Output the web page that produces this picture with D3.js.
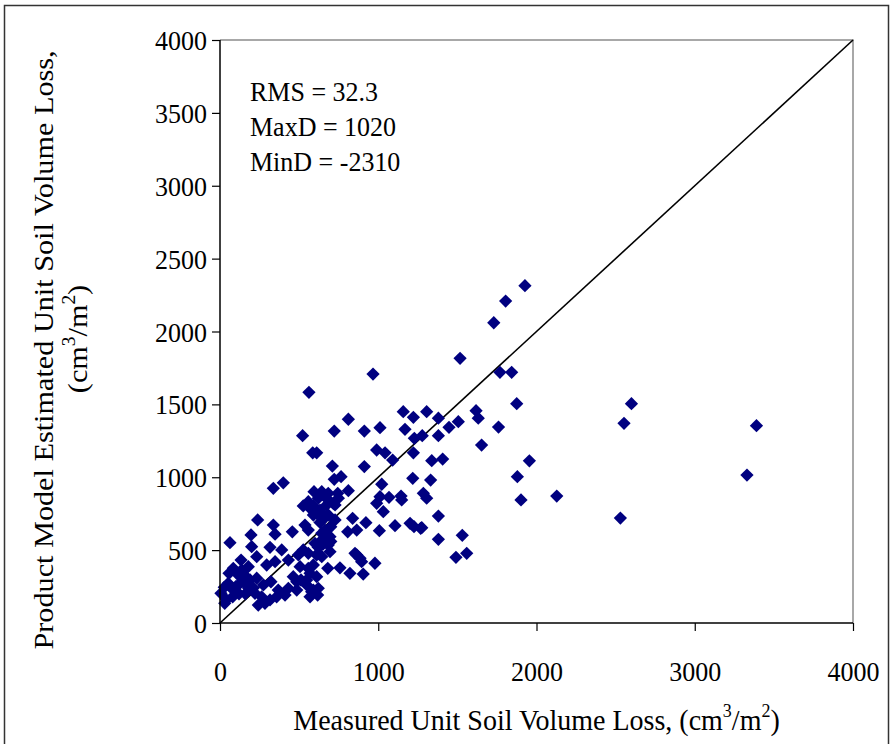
<!DOCTYPE html>
<html>
<head>
<meta charset="utf-8">
<script src="https://cdn.jsdelivr.net/npm/d3@7"></script>
<style>
  html, body { margin: 0; padding: 0; background: #fff; }
  svg { display: block; }
  text { font-family: "Liberation Serif", "Times New Roman", serif; fill: #000; }
</style>
</head>
<body>
<svg id="chart" width="893" height="744"></svg>
<script>
// Measured vs. model-estimated unit soil volume loss (cm^3/m^2)
const measured = [
  1927,1805,1730,1517,967,1769,1843,562,1875,2600,2553,3390,3330,2530,2128,1902,1955,1879,
  1618,1632,1306,1380,1447,1506,1760,1380,1653,1338,1407,1331,1285,1306,1380,1275,1380,1531,
  1491,1559,1158,1222,811,722,912,1011,1169,1228,1278,611,990,1043,1091,1222,710,912,722,765,
  1218,1022,643,684,744,811,1011,1068,1144,621,522,586,337,400,594,558,990,1032,1148,838,922,
  807,864,1007,1106,1201,1226,1268,684,727,643,684,695,864,895,979,681,758,821,905,611,621,
  617,643,663,695,621,643,600,632,674,727,853,885,238,63,337,457,196,348,537,526,590,590,558,
  200,316,390,133,232,179,295,348,432,495,526,57,116,154,52,27,6,30,84,126,190,232,274,322,
  263,242,316,368,411,463,512,548,569,590,432,485,506,590,600,558,611,558,137,84,221,284,100,
  150,120,180,80,40,210,160,653,684,716,748,569,611,653,358,548,579,569,485,632,660,700,650,
  700,620
];
const estimated = [
  2314,2209,2060,1816,1708,1720,1720,1583,1505,1505,1370,1354,1015,720,871,844,1113,1004,
  1457,1405,1450,1405,1343,1381,1344,1285,1221,1114,1125,981,890,856,734,654,574,602,
  451,478,1450,1411,1398,1317,1317,1340,1329,1267,1285,1168,1187,1168,1118,1168,1077,1073,986,1004,
  993,952,901,890,890,908,867,862,871,856,1285,1168,924,962,901,832,821,764,844,718,688,
  626,638,633,668,684,661,650,741,707,569,535,489,467,421,410,375,379,341,336,318,238,
  192,615,638,592,478,455,775,775,810,810,478,444,707,551,672,626,604,609,672,803,805,741,638,
  524,519,501,432,455,386,398,421,432,467,501,341,329,329,272,245,204,135,226,272,295,307,261,283,
  180,123,158,226,192,318,295,295,341,226,238,226,386,398,547,478,467,375,364,375,204,135,250,
  280,200,240,180,160,240,200,878,844,821,856,787,753,741,180,261,215,180,283,690,720,660,540,
  560,520
];
const xTicks = [0, 1000, 2000, 3000, 4000];
const yTicks = [0, 500, 1000, 1500, 2000, 2500, 3000, 3500, 4000];
const statLines = ["RMS = 32.3", "MaxD = 1020", "MinD = -2310"];

// glyphs in this chart are drawn slightly taller than the font's natural shape
const STRETCH = 1.08;
const FONT = '"Liberation Serif", "Times New Roman", serif';

const svg = d3.select("#chart");

// outer chart frame
svg.append("rect")
  .attr("x", 4.5).attr("y", 5.5).attr("width", 884).attr("height", 760)
  .attr("fill", "none").attr("stroke", "#333").attr("stroke-width", 1.5);

const x = d3.scaleLinear().domain([0, 4000]).range([220, 853]);
const y = d3.scaleLinear().domain([0, 4000]).range([623, 40]);

// plot area outline (grey top/right edges)
svg.append("path")
  .attr("d", `M${x(0)},${y(4000)}H${x(4000)}V${y(0)}`)
  .attr("fill", "none").attr("stroke", "#8c8c8c").attr("stroke-width", 1.5);

// 1:1 reference line
svg.append("line")
  .attr("x1", x(0)).attr("y1", y(0)).attr("x2", x(4000)).attr("y2", y(4000))
  .attr("stroke", "#000").attr("stroke-width", 1.6);

// data points (navy diamonds)
const diamond = d3.symbol(d3.symbolSquare, 88);
svg.append("g").selectAll("path")
  .data(measured.map((m, i) => [m, estimated[i]]))
  .join("path")
  .attr("d", diamond)
  .attr("transform", d => `translate(${x(d[0])},${y(d[1])}) rotate(45)`)
  .attr("fill", "#000080");

// axes
const xAxis = svg.append("g")
  .attr("transform", `translate(0,${y(0)})`)
  .call(d3.axisBottom(x).tickValues(xTicks).tickFormat(d3.format("d")).tickSize(8));
const yAxis = svg.append("g")
  .attr("transform", `translate(${x(0)},0)`)
  .call(d3.axisLeft(y).tickValues(yTicks).tickFormat(d3.format("d")).tickSize(8));

[xAxis, yAxis].forEach(g => {
  g.select(".domain").attr("stroke", "#000").attr("stroke-width", 1.5);
  g.selectAll(".tick line").attr("stroke", "#000").attr("stroke-width", 1.2);
  g.selectAll(".tick text")
    .style("font-family", FONT)
    .style("font-size", "26px").attr("fill", "#000");
});
xAxis.selectAll(".tick text")
  .attr("y", null).attr("dy", null)
  .attr("transform", `translate(0,58) scale(1,${STRETCH})`);
yAxis.selectAll(".tick text")
  .attr("x", null).attr("dy", "0.34em")
  .attr("transform", `translate(-13,0) scale(1,${STRETCH})`);
xAxis.select(".domain").attr("d", `M${x(0)},0H${x(4000)}`);
yAxis.select(".domain").attr("d", `M0,${y(0)}V${y(4000)}`);

// statistics annotation
svg.append("g").selectAll("text")
  .data(statLines)
  .join("text")
  .attr("transform", (d, i) => `translate(250,${101 + i * 35}) scale(1,${STRETCH})`)
  .style("font-size", "26px")
  .text(d => d);

// adds "(cm³/m²)" with raised exponents to a text element
function unitsInto(t) {
  t.append("tspan").text("(cm");
  t.append("tspan").attr("dy", -12).style("font-size", "18px").text("3");
  t.append("tspan").attr("dy", 12).text("/m");
  t.append("tspan").attr("dy", -12).style("font-size", "18px").text("2");
  t.append("tspan").attr("dy", 12).text(")");
}

// x-axis title
const xt = svg.append("text")
  .attr("transform", `translate(${(x(0) + x(4000)) / 2},730) scale(1,${STRETCH})`)
  .attr("text-anchor", "middle")
  .style("font-size", "28px");
xt.append("tspan").text("Measured Unit Soil Volume Loss, ");
unitsInto(xt);

// y-axis title, two lines
svg.append("text")
  .attr("transform", `translate(53,350) scale(1,${STRETCH}) rotate(-90)`)
  .attr("text-anchor", "middle")
  .style("font-size", "28px")
  .text("Product Model Estimated Unit Soil Volume Loss,");
const yt2 = svg.append("text")
  .attr("transform", `translate(87,339) scale(1,${STRETCH}) rotate(-90)`)
  .attr("text-anchor", "middle")
  .style("font-size", "28px");
unitsInto(yt2);
</script>
</body>
</html>
